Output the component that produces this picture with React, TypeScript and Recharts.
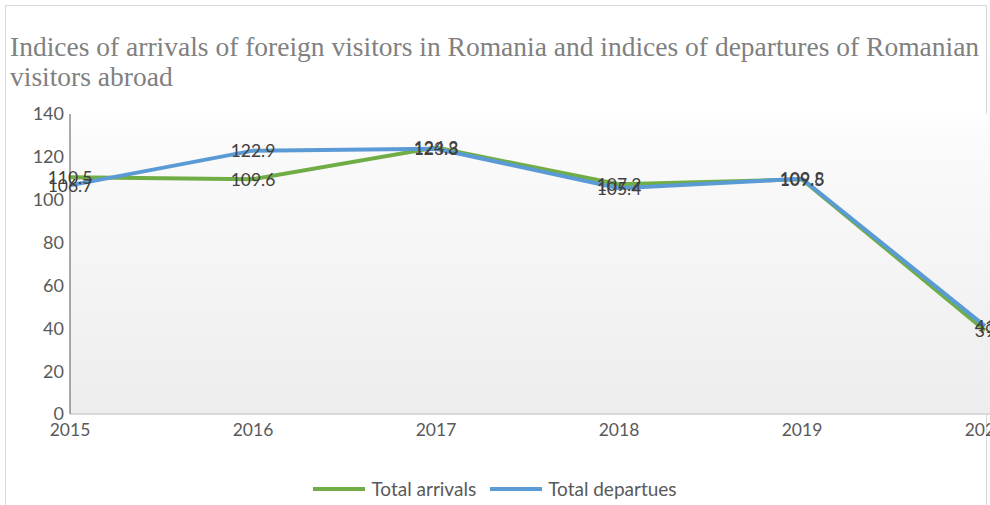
import React from "react";
import { LineChart, Line, XAxis, YAxis, CartesianGrid, LabelList } from "recharts";

const years = ["2015", "2016", "2017", "2018", "2019", "2020"];
const arrivals = [110.5, 109.6, 124.3, 107.2, 109.5, 39];
const departures = [106.7, 122.9, 123.8, 105.4, 109.8, 41];
const yTicks = [0, 20, 40, 60, 80, 100, 120, 140];

const data = years.map((y, i) => ({ year: y, arrivals: arrivals[i], departures: departures[i] }));

const FONT = "Lato, 'Open Sans', sans-serif";
const GREEN = "#70AD47";
const BLUE = "#5B9BD5";

const CenterLabel = (props: any) => {
  const { x, y, value } = props;
  return (
    <text x={x} y={y} textAnchor="middle" dominantBaseline="central" fontSize={17.5} fontFamily={FONT} fill="#404040">
      {value}
    </text>
  );
};

export default function App() {
  return (
    <div style={{ position: "absolute", left: 0, top: 0, width: 990, height: 505, overflow: "hidden", background: "#fff" }}>
      <div style={{ position: "absolute", left: 5, top: 5, width: 980, height: 520, border: "1px solid #d9d9d9" }} />
      <div
        style={{
          position: "absolute",
          left: 10,
          top: 32,
          fontFamily: "'Liberation Serif', 'Times New Roman', serif",
          fontSize: 27.5,
          lineHeight: "30px",
          color: "#808080",
          whiteSpace: "nowrap",
        }}
      >
        <div>Indices of arrivals of foreign visitors in Romania and indices of departures of Romanian</div>
        <div>visitors abroad</div>
      </div>
      <div style={{ position: "absolute", left: 0, top: 0 }}>
        <LineChart width={990} height={505} data={data} margin={{ top: 114, right: 0, bottom: 61, left: 8 }}>
          <defs>
            <linearGradient id="bg" x1="0" y1="0" x2="0" y2="1">
              <stop offset="0%" stopColor="#ffffff" />
              <stop offset="7%" stopColor="#fbfbfb" />
              <stop offset="100%" stopColor="#ededed" />
            </linearGradient>
          </defs>
          <CartesianGrid horizontal={false} vertical={false} fill="url(#bg)" />
          <XAxis
            dataKey="year"
            padding={{ left: 0, right: 5 }}
            tickLine={false}
            tickSize={0}
            tickMargin={10}
            axisLine={{ stroke: "#d9d9d9", strokeWidth: 2 }}
            tick={{ fontSize: 17.5, fontFamily: FONT, fill: "#595959" }}
            interval={0}
            height={30}
          />
          <YAxis
            domain={[0, 140]}
            ticks={yTicks}
            width={62}
            tickLine={false}
            tickSize={0}
            tickMargin={6}
            axisLine={{ stroke: "#595959", strokeWidth: 1 }}
            tick={{ fontSize: 18, fontFamily: FONT, fill: "#595959" }}
            interval={0}
          />
          <Line type="linear" dataKey="arrivals" name="Total arrivals" stroke={GREEN} strokeWidth={4} dot={false} isAnimationActive={false}>
            <LabelList dataKey="arrivals" content={CenterLabel} />
          </Line>
          <Line type="linear" dataKey="departures" name="Total departues" stroke={BLUE} strokeWidth={4} dot={false} isAnimationActive={false}>
            <LabelList dataKey="departures" content={CenterLabel} />
          </Line>
        </LineChart>
      </div>
      <div style={{ position: "absolute", left: 0, top: 477, width: 990, display: "flex", justifyContent: "center", fontFamily: FONT, fontSize: 19, color: "#595959" }}>
        <div style={{ display: "flex", alignItems: "center", marginRight: 14 }}>
          <span style={{ display: "inline-block", width: 52, height: 4, background: GREEN, marginRight: 6 }} />
          <span>Total arrivals</span>
        </div>
        <div style={{ display: "flex", alignItems: "center" }}>
          <span style={{ display: "inline-block", width: 52, height: 4, background: BLUE, marginRight: 6 }} />
          <span>Total departues</span>
        </div>
      </div>
    </div>
  );
}
